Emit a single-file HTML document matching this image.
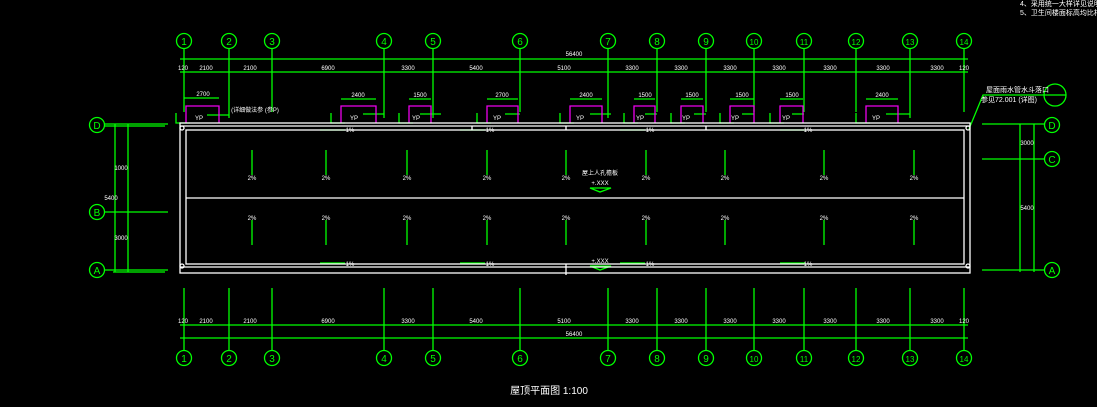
<!DOCTYPE html>
<html><head><meta charset="utf-8"><style>
html,body{margin:0;padding:0;background:#000;width:1097px;height:407px;overflow:hidden}
svg{display:block}
text{font-family:"Liberation Sans","Noto Sans CJK SC",sans-serif;fill:#fff}
</style></head><body>
<svg width="1097" height="407" viewBox="0 0 1097 407">
<g stroke="#0f0" stroke-width="1.3" fill="none">
<!-- top dim lines -->
<line x1="180" y1="59" x2="968" y2="59"/><line x1="180" y1="72" x2="968" y2="72"/>
<!-- bottom dim lines -->
<line x1="180" y1="325" x2="968" y2="325"/><line x1="180" y1="338" x2="968" y2="338"/>
<!-- top axis lines -->
<path d="M184 49V112M229 49V118M272 49V112M384 49V118M433 49V118M520 49V112M608 49V118M657 49V112M706 49V112M754 49V112M804 49V112M856 49V112M910 49V118M964 49V112"/>
<!-- bottom axis lines -->
<path d="M184 288V350M229 288V350M272 288V350M384 288V350M433 288V350M520 288V350M608 288V350M657 288V350M706 288V350M754 288V350M804 288V350M856 288V350M910 288V350M964 288V350"/>
<!-- top circles -->
<circle cx="184" cy="41" r="7.5"/><circle cx="229" cy="41" r="7.5"/><circle cx="272" cy="41" r="7.5"/><circle cx="384" cy="41" r="7.5"/><circle cx="433" cy="41" r="7.5"/><circle cx="520" cy="41" r="7.5"/><circle cx="608" cy="41" r="7.5"/><circle cx="657" cy="41" r="7.5"/><circle cx="706" cy="41" r="7.5"/><circle cx="754" cy="41" r="7.5"/><circle cx="804" cy="41" r="7.5"/><circle cx="856" cy="41" r="7.5"/><circle cx="910" cy="41" r="7.5"/><circle cx="964" cy="41" r="7.5"/>
<!-- bottom circles -->
<circle cx="184" cy="358" r="7.5"/><circle cx="229" cy="358" r="7.5"/><circle cx="272" cy="358" r="7.5"/><circle cx="384" cy="358" r="7.5"/><circle cx="433" cy="358" r="7.5"/><circle cx="520" cy="358" r="7.5"/><circle cx="608" cy="358" r="7.5"/><circle cx="657" cy="358" r="7.5"/><circle cx="706" cy="358" r="7.5"/><circle cx="754" cy="358" r="7.5"/><circle cx="804" cy="358" r="7.5"/><circle cx="856" cy="358" r="7.5"/><circle cx="910" cy="358" r="7.5"/><circle cx="964" cy="358" r="7.5"/>
<!-- left axes -->
<circle cx="97" cy="125" r="7.5"/><circle cx="97" cy="212" r="7.5"/><circle cx="97" cy="270" r="7.5"/>
<path d="M105 124H168M105 126H165M105 212H168M105 270H168M113 272H165M115 124V272M128 124V272"/>
<!-- right axes -->
<circle cx="1052" cy="125" r="7.5"/><circle cx="1052" cy="159" r="7.5"/><circle cx="1052" cy="270" r="7.5"/>
<path d="M982 124H1044M982 159H1044M982 270H1044M1020 124V272M1034 124V272"/>
<path d="M969 129L983 95H1044"/><circle cx="1055" cy="95" r="11"/><line x1="1044" y1="95" x2="1066" y2="95"/>
<!-- arrows -->
<path d="M252 150V175M326 150V175M407 150V175M487 150V175M566 150V175M646 150V175M725 150V175M824 150V175M914 150V175"/>
<path d="M252 220V245M326 220V245M407 220V245M487 220V245M566 220V245M646 220V245M725 220V245M824 220V245M914 220V245"/>
<path d="M320 130H345M460 130H485M620 130H645M780 130H805M320 263H345M460 263H485M620 263H645M780 263H805"/>
<path d="M590 188H611L600 192ZM590 266H611L600 270Z"/>
<!-- dim brackets above boxes -->
<path d="M184 98H219M341 99H376M409 99H431M487 99H518M570 99H602M634 99H655M681 99H703M730 99H754M780 99H803M866 99H898"/>
<path d="M176 113V123H190M331 113V123H345M399 113V123H413M477 113V123H491M560 113V123H574M624 113V123H638M671 113V123H685M720 113V123H734M770 113V123H784M856 113V123H870"/>
<path d="M207 115H229M363 114H384M420 114H441M505 114H520M590 114H611M645 114H657M694 114H706M742 114H754M792 114H804M886 114H910"/>
</g>
<!-- magenta boxes -->
<g stroke="#e0e" stroke-width="1.3" fill="none">
<path d="M186 123V106H219V123M341 123V106H376V123M409 123V106H431V123M487 123V106H518V123M570 123V106H602V123M634 123V106H655V123M681 123V106H703V123M730 123V106H754V123M780 123V106H803V123M866 123V106H898V123"/>
</g>
<!-- roof outline -->
<g stroke="#fff" stroke-width="1.3" fill="none">
<rect x="180" y="123" width="790" height="150"/>
<rect x="186" y="130" width="778" height="134"/>
<path d="M180 126H970M186 198H964M180 267H970M472 126V130M566 126V130M706 126V130M566 264V275"/>
<circle cx="182" cy="128" r="2"/><circle cx="182" cy="266" r="2"/><circle cx="968" cy="128" r="2"/><circle cx="968" cy="266" r="2"/>
</g>
<!-- axis labels -->
<g font-size="10" text-anchor="middle" fill="#0f0">
<text x="184" y="45" style="fill:#0f0">1</text><text x="229" y="45" style="fill:#0f0">2</text><text x="272" y="45" style="fill:#0f0">3</text><text x="384" y="45" style="fill:#0f0">4</text><text x="433" y="45" style="fill:#0f0">5</text><text x="520" y="45" style="fill:#0f0">6</text><text x="608" y="45" style="fill:#0f0">7</text><text x="657" y="45" style="fill:#0f0">8</text><text x="706" y="45" style="fill:#0f0">9</text><text x="754" y="45" style="fill:#0f0" font-size="8">10</text><text x="804" y="45" style="fill:#0f0" font-size="8">11</text><text x="856" y="45" style="fill:#0f0" font-size="8">12</text><text x="910" y="45" style="fill:#0f0" font-size="8">13</text><text x="964" y="45" style="fill:#0f0" font-size="8">14</text>
<text x="184" y="362" style="fill:#0f0">1</text><text x="229" y="362" style="fill:#0f0">2</text><text x="272" y="362" style="fill:#0f0">3</text><text x="384" y="362" style="fill:#0f0">4</text><text x="433" y="362" style="fill:#0f0">5</text><text x="520" y="362" style="fill:#0f0">6</text><text x="608" y="362" style="fill:#0f0">7</text><text x="657" y="362" style="fill:#0f0">8</text><text x="706" y="362" style="fill:#0f0">9</text><text x="754" y="362" style="fill:#0f0" font-size="8">10</text><text x="804" y="362" style="fill:#0f0" font-size="8">11</text><text x="856" y="362" style="fill:#0f0" font-size="8">12</text><text x="910" y="362" style="fill:#0f0" font-size="8">13</text><text x="964" y="362" style="fill:#0f0" font-size="8">14</text>
<text x="97" y="129" style="fill:#0f0">D</text><text x="97" y="216" style="fill:#0f0">B</text><text x="97" y="274" style="fill:#0f0">A</text>
<text x="1052" y="129" style="fill:#0f0">D</text><text x="1052" y="163" style="fill:#0f0">C</text><text x="1052" y="274" style="fill:#0f0">A</text>
</g>
<!-- dim numbers -->
<g font-size="6" text-anchor="middle">
<text x="574" y="56">56400</text>
<text x="183" y="70">120</text><text x="206" y="70">2100</text><text x="250" y="70">2100</text><text x="328" y="70">6900</text><text x="408" y="70">3300</text><text x="476" y="70">5400</text><text x="564" y="70">5100</text><text x="632" y="70">3300</text><text x="681" y="70">3300</text><text x="730" y="70">3300</text><text x="779" y="70">3300</text><text x="830" y="70">3300</text><text x="883" y="70">3300</text><text x="937" y="70">3300</text><text x="964" y="70">120</text>
<text x="183" y="323">120</text><text x="206" y="323">2100</text><text x="250" y="323">2100</text><text x="328" y="323">6900</text><text x="408" y="323">3300</text><text x="476" y="323">5400</text><text x="564" y="323">5100</text><text x="632" y="323">3300</text><text x="681" y="323">3300</text><text x="730" y="323">3300</text><text x="779" y="323">3300</text><text x="830" y="323">3300</text><text x="883" y="323">3300</text><text x="937" y="323">3300</text><text x="964" y="323">120</text>
<text x="574" y="336">56400</text>
<text x="203" y="96">2700</text><text x="358" y="97">2400</text><text x="420" y="97">1500</text><text x="502" y="97">2700</text><text x="586" y="97">2400</text><text x="645" y="97">1500</text><text x="692" y="97">1500</text><text x="742" y="97">1500</text><text x="792" y="97">1500</text><text x="882" y="97">2400</text>
<text x="199" y="120">YP</text><text x="354" y="120">YP</text><text x="416" y="120">YP</text><text x="497" y="120">YP</text><text x="580" y="120">YP</text><text x="640" y="120">YP</text><text x="686" y="120">YP</text><text x="735" y="120">YP</text><text x="786" y="120">YP</text><text x="876" y="120">YP</text>
<text x="252" y="180">2%</text><text x="326" y="180">2%</text><text x="407" y="180">2%</text><text x="487" y="180">2%</text><text x="566" y="180">2%</text><text x="646" y="180">2%</text><text x="725" y="180">2%</text><text x="824" y="180">2%</text><text x="914" y="180">2%</text>
<text x="252" y="220">2%</text><text x="326" y="220">2%</text><text x="407" y="220">2%</text><text x="487" y="220">2%</text><text x="566" y="220">2%</text><text x="646" y="220">2%</text><text x="725" y="220">2%</text><text x="824" y="220">2%</text><text x="914" y="220">2%</text>
<text x="350" y="132">1%</text><text x="490" y="132">1%</text><text x="650" y="132">1%</text><text x="808" y="132">1%</text>
<text x="350" y="266">1%</text><text x="490" y="266">1%</text><text x="650" y="266">1%</text><text x="808" y="266">1%</text>
<text x="600" y="175">屋上人孔檐板</text><text x="600" y="185">+.XXX</text><text x="600" y="263">+.XXX</text>
<text x="121" y="170">1000</text><text x="121" y="240">3000</text><text x="111" y="200">5400</text>
<text x="1027" y="145">3000</text><text x="1027" y="210">5400</text>
<text x="255" y="112">(详细做法参 (参P)</text>
</g>
<g font-size="7">
<text x="986" y="92">屋面雨水管水斗落口</text>
<text x="981" y="102">参见72.001   (详图)</text>
<text x="1020" y="6">4、采用统一大样详见说明</text>
<text x="1020" y="15">5、卫生间楼面标高均比相应</text>
</g>
<text x="549" y="394" font-size="10" text-anchor="middle">屋顶平面图 1:100</text>
</svg>
</body></html>
